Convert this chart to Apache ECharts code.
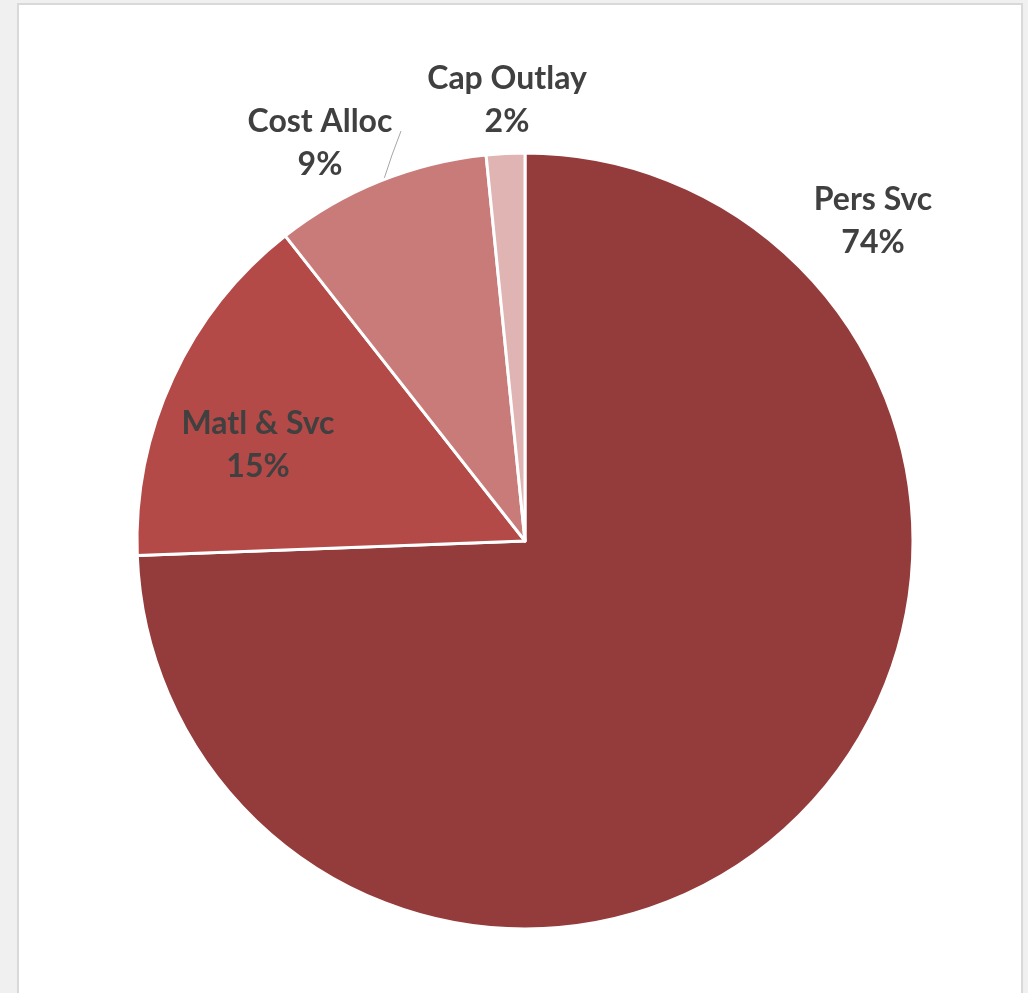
<!DOCTYPE html>
<html>
<head>
<meta charset="utf-8">
<script src="https://cdn.jsdelivr.net/npm/echarts@6/dist/echarts.min.js"></script>
<style>
    html, body { margin: 0; padding: 0; background: #f0f0f0; overflow: hidden; }
    .frame { position: absolute; left: 17px; top: 3px; width: 1002px; height: 1010px; background: #fff; border: 2px solid #d9d9d9; }
    #chart { position: absolute; left: 0; top: 0; width: 1028px; height: 993px; }
</style>
</head>
<body>
<div class="frame"></div>
<div id="chart"></div>
<script>
const categories = ['Pers Svc', 'Matl & Svc', 'Cost Alloc', 'Cap Outlay'];
const shares = [74.4, 15.0, 9.0, 1.6];
const colors = ['#943b3b', '#b34a48', '#c97b7a', '#dfb4b3'];

/*label spots, page px*/
const labelSpots = [[873, 221], [258, 445], [320, 143], [507, 100]];

(function () {
    const chart = echarts.init(document.getElementById('chart'), null, {renderer: 'canvas'});

    const option = {
        backgroundColor: 'transparent',
        animation: false,
        series: [{
            type: 'pie',
            center: [525, 541],
            radius: 388,
            startAngle: 90,
            clockwise: true,
            percentPrecision: 0,
            itemStyle: {borderColor: '#fff', borderWidth: 3},
            label: {
                show: true,
                formatter: '{b}\n{d}%',
                fontFamily: 'Lato',
                fontWeight: 'bold',
                fontSize: 32,
                lineHeight: 43,
                color: '#404040',
                overflow: 'none'
            },
            labelLine: {show: false, lineStyle: {color: '#a6a6a6', width: 1}},
            labelLayout: function (params) {
                const spot = labelSpots[params.dataIndex];
                const res = {x: spot[0], y: spot[1], align: 'center', verticalAlign: 'middle'};
                if (params.dataIndex === 2) {
                    res.labelLinePoints = [[401, 131], [392, 155], [384, 179]];
                }
                return res;
            },
            data: categories.map(function (name, i) {
                const item = {name: name, value: shares[i], itemStyle: {color: colors[i]}};
                if (i === 1) {
                    item.label = {position: 'inside', width: 300, overflow: 'none'};
                }
                if (i === 2) {
                    item.labelLine = {show: true, length: 10, length2: 10};
                }
                return item;
            })
        }]
    };

    chart.setOption(option);
})();
</script>
</body>
</html>
